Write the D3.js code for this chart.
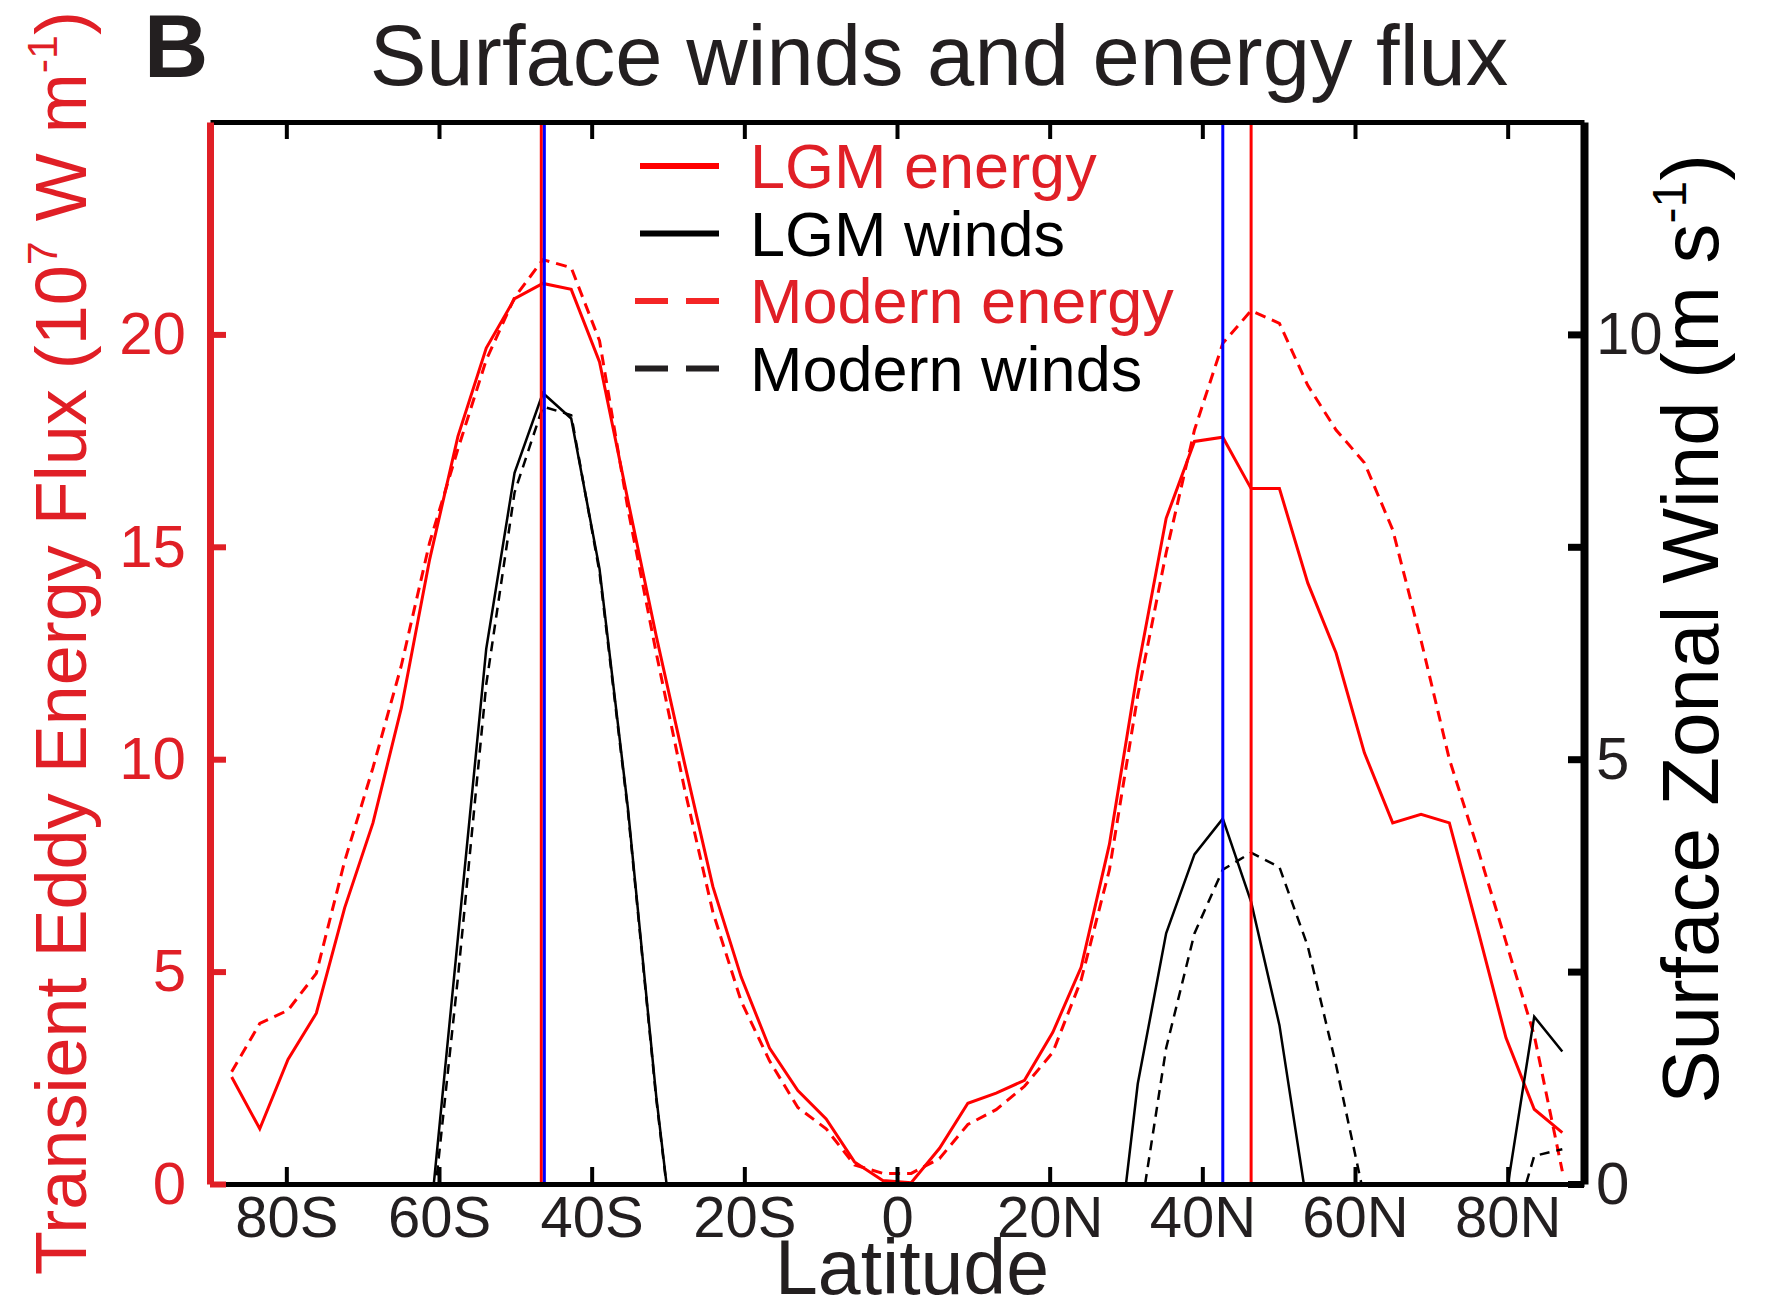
<!DOCTYPE html>
<html>
<head>
<meta charset="utf-8">
<script src="https://d3js.org/d3.v7.min.js"></script>
<style>
  body { margin: 0; background: #fff; }
  text { font-family: "Liberation Sans", Arial, Helvetica, sans-serif; }
</style>
</head>
<body>
<div id="chart"></div>
<script>
// Gaussian grid latitudes (S -> N)
var lats = [-87.16, -83.48, -79.78, -76.07, -72.36, -68.65, -64.94, -61.23, -57.52, -53.81,
  -50.10, -46.39, -42.68, -38.97, -35.26, -31.54, -27.83, -24.12, -20.41, -16.70,
  -12.99, -9.28, -5.57, -1.86, 1.86, 5.57, 9.28, 12.99, 16.70, 20.41,
  24.12, 27.83, 31.54, 35.26, 38.97, 42.68, 46.39, 50.10, 53.81, 57.52,
  61.23, 64.94, 68.65, 72.36, 76.07, 79.78, 83.48, 87.16];

// transient eddy energy flux (10^7 W m-1)
var lgmEnergy = [2.52, 1.30, 2.93, 4.02, 6.50, 8.50, 11.2, 14.7, 17.6, 19.68,
  20.84, 21.2, 21.06, 19.35, 16.1, 12.9, 9.9, 7.0, 4.87, 3.2,
  2.2, 1.53, 0.52, 0.08, 0.03, 0.84, 1.9, 2.14, 2.44, 3.57,
  5.1, 8.0, 12.1, 15.67, 17.48, 17.58, 16.37, 16.37, 14.15, 12.5,
  10.15, 8.5, 8.7, 8.5, 6.0, 3.44, 1.76, 1.21];
var modernEnergy = [2.64, 3.78, 4.09, 4.96, 7.6, 9.8, 12.2, 15.1, 17.3, 19.4,
  20.87, 21.76, 21.57, 19.85, 15.9, 12.5, 9.3, 6.4, 4.3, 2.9,
  1.8, 1.3, 0.45, 0.25, 0.25, 0.6, 1.4, 1.75, 2.3, 3.1,
  4.8, 7.4, 11.5, 14.86, 17.75, 19.79, 20.56, 20.26, 18.8, 17.75,
  16.98, 15.4, 12.8, 10.0, 7.9, 5.7, 3.5, 0.3];

// surface zonal wind (m s-1), easterlies fall below the axis and are clipped
var lgmWind = [-2.0, -2.5, -3.0, -3.0, -2.5, -1.8, -1.0, -0.5, 2.9, 6.3,
  8.37, 9.31, 9.01, 7.24, 4.43, 1.03, -1.8, -3.5, -4.5, -5.0,
  -5.0, -4.5, -3.5, -3.0, -3.0, -3.5, -4.5, -5.0, -4.8, -3.5,
  -2.8, -1.66, 1.18, 2.95, 3.88, 4.3, 3.32, 1.87, -0.3, -1.0,
  -1.2, -1.5, -1.5, -1.2, -1.0, -0.15, 1.97, 1.56];
var modernWind = [-2.0, -2.5, -3.0, -3.0, -2.5, -1.8, -1.2, -0.7, 2.43, 5.88,
  8.14, 9.15, 9.05, 7.2, 4.4, 1.0, -1.8, -3.5, -4.5, -5.0,
  -5.0, -4.5, -3.5, -3.0, -3.0, -3.5, -4.5, -5.0, -4.8, -3.8,
  -3.0, -2.0, -0.56, 1.6, 2.95, 3.7, 3.9, 3.73, 2.8, 1.4,
  -0.16, -1.0, -1.5, -1.5, -1.5, -0.8, 0.33, 0.41];

// latitudes of the peaks marked by vertical lines
var redMarkers = [-46.6, 46.39];
var blueMarkers = [-46.2, 42.68];

var xTickValues = [-80, -60, -40, -20, 0, 20, 40, 60, 80];
var xTickLabels = ["80S", "60S", "40S", "20S", "0", "20N", "40N", "60N", "80N"];
var energyTicks = [0, 5, 10, 15, 20];
var windTicks = [0, 2.5, 5, 7.5, 10];
var legendLabels = ["LGM energy", "LGM winds", "Modern energy", "Modern winds"];

var lineRed = "#ff0000", textRed = "#e01f26", dark = "#231f20";

var plotLeft = 210, plotRight = 1584, plotTop = 122, plotBottom = 1184;

var svg = d3.select("#chart").append("svg")
  .attr("width", 1768)
  .attr("height", 1311)
  .style("background", "#fff");

var x = d3.scaleLinear().domain([-90, 90]).range([plotLeft, plotRight]);
var yE = d3.scaleLinear().domain([0, 25]).range([plotBottom, plotTop]);
var yW = d3.scaleLinear().domain([0, 12.5]).range([plotBottom, plotTop]);

svg.append("clipPath").attr("id", "plotClip")
  .append("rect")
  .attr("x", plotLeft).attr("y", plotTop)
  .attr("width", plotRight - plotLeft).attr("height", plotBottom - plotTop);

var plot = svg.append("g").attr("clip-path", "url(#plotClip)");

var series = [
  {values: lgmEnergy, scale: yE, color: lineRed, dash: null, width: 3},
  {values: modernEnergy, scale: yE, color: lineRed, dash: "11,7", width: 3},
  {values: lgmWind, scale: yW, color: "#000", dash: null, width: 2.5},
  {values: modernWind, scale: yW, color: "#000", dash: "10,7", width: 2.5}
];

series.forEach(function(s) {
  var line = d3.line()
    .x(function(d, i) { return x(lats[i]); })
    .y(function(d) { return s.scale(d); });
  plot.append("path")
    .datum(s.values)
    .attr("d", line)
    .attr("fill", "none")
    .attr("stroke", s.color)
    .attr("stroke-width", s.width)
    .attr("stroke-dasharray", s.dash)
    .attr("stroke-linejoin", "miter");
});

plot.selectAll(".redMark").data(redMarkers).enter().append("line")
  .attr("x1", function(d) { return x(d); }).attr("x2", function(d) { return x(d); })
  .attr("y1", plotTop).attr("y2", plotBottom)
  .attr("stroke", lineRed).attr("stroke-width", 3);

plot.selectAll(".blueMark").data(blueMarkers).enter().append("line")
  .attr("x1", function(d) { return x(d); }).attr("x2", function(d) { return x(d); })
  .attr("y1", plotTop).attr("y2", plotBottom)
  .attr("stroke", "#0000ff").attr("stroke-width", 3);

// axes
function styleAxis(g, color, domainW, tickW, fontSize) {
  g.attr("font-family", null).attr("font-size", fontSize);
  g.select(".domain").attr("stroke", color).attr("stroke-width", domainW);
  g.selectAll(".tick line").attr("stroke", color).attr("stroke-width", tickW);
  g.selectAll(".tick text").attr("fill", color === "#000" ? dark : textRed);
}

var xAxis = svg.append("g")
  .attr("transform", "translate(0," + plotBottom + ")")
  .call(d3.axisBottom(x).tickValues(xTickValues)
    .tickFormat(function(d, i) { return xTickLabels[i]; })
    .tickSize(-17).tickSizeOuter(0).tickPadding(12));
styleAxis(xAxis, "#000", 5, 4, 58);

var xTop = svg.append("g")
  .attr("transform", "translate(0," + plotTop + ")")
  .call(d3.axisTop(x).tickValues(xTickValues).tickFormat("")
    .tickSize(-17).tickSizeOuter(0));
styleAxis(xTop, "#000", 5, 4, 58);

var yLeft = svg.append("g")
  .attr("transform", "translate(" + plotLeft + ",0)")
  .call(d3.axisLeft(yE).tickValues(energyTicks)
    .tickSize(-16).tickSizeOuter(0).tickPadding(24));
styleAxis(yLeft, textRed, 7, 6, 60);

var yRight = svg.append("g")
  .attr("transform", "translate(" + plotRight + ",0)")
  .call(d3.axisRight(yW).tickValues(windTicks)
    .tickFormat(function(d) { return d % 5 === 0 ? d : ""; })
    .tickSize(-16).tickSizeOuter(0).tickPadding(12));
styleAxis(yRight, "#000", 8, 7, 60);

// titles
svg.append("text").attr("x", 144).attr("y", 77)
  .attr("font-size", 89).attr("font-weight", "bold").attr("fill", dark).text("B");

svg.append("text").attr("x", 939).attr("y", 85)
  .attr("text-anchor", "middle").attr("font-size", 85).attr("fill", dark)
  .text("Surface winds and energy flux");

svg.append("text").attr("x", 912).attr("y", 1294)
  .attr("text-anchor", "middle").attr("font-size", 77).attr("fill", dark)
  .text("Latitude");

var yl = svg.append("text")
  .attr("transform", "translate(86,643) rotate(-90)")
  .attr("text-anchor", "middle").attr("font-size", 72).attr("fill", textRed);
yl.append("tspan").text("Transient Eddy Energy Flux (10");
yl.append("tspan").attr("font-size", 43).attr("dy", -29).text("7");
yl.append("tspan").attr("dy", 29).text(" W m");
yl.append("tspan").attr("font-size", 43).attr("dy", -29).text("-1");
yl.append("tspan").attr("dy", 29).text(")");

var yr = svg.append("text")
  .attr("transform", "translate(1718,629) rotate(-90)")
  .attr("text-anchor", "middle").attr("font-size", 80).attr("fill", "#000");
yr.append("tspan").text("Surface Zonal Wind (m s");
yr.append("tspan").attr("font-size", 48).attr("dy", -32).text("-1");
yr.append("tspan").attr("dy", 32).text(")");

// legend
var legendStyles = [
  {color: lineRed, text: textRed, dash: null},
  {color: "#000", text: "#000", dash: null},
  {color: "#f42525", text: textRed, dash: "33,18"},
  {color: dark, text: "#000", dash: "33,18"}
];

var legend = svg.append("g");
legendLabels.forEach(function(label, i) {
  var cy = 166 + i * 67.5;
  var st = legendStyles[i];
  legend.append("line")
    .attr("x1", st.dash ? 635 : 640).attr("x2", 719)
    .attr("y1", cy).attr("y2", cy)
    .attr("stroke", st.color).attr("stroke-width", 6)
    .attr("stroke-dasharray", st.dash);
  legend.append("text")
    .attr("x", 750).attr("y", cy + 22)
    .attr("font-size", 63).attr("fill", st.text)
    .text(label);
});
</script>
</body>
</html>
